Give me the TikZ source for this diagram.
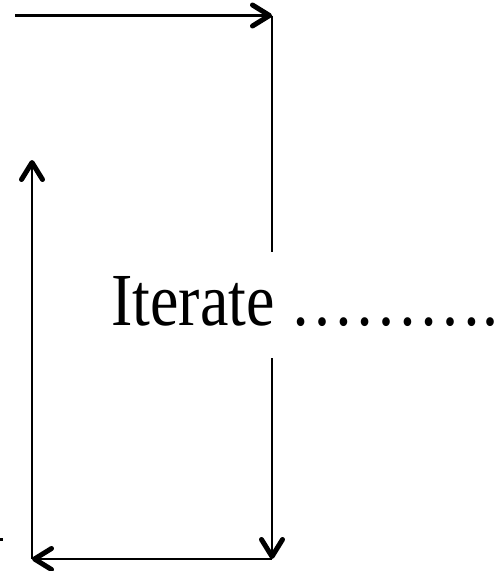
\documentclass[tikz,border=0pt]{standalone}
\usepackage{fontspec}
\setmainfont{Liberation Serif}
\usetikzlibrary{arrows.meta}
\begin{document}
\begin{tikzpicture}[x=1pt,y=-1pt,
  conn/.style={line width=2.2pt,-{Straight Barb[length=17pt,width=21pt,line width=5pt,round]}},
  plain/.style={line width=2.2pt}]
\useasboundingbox (0,0) rectangle (500,571);
\node[anchor=base west,inner sep=0pt] (iter) at (111,325)
  {\scalebox{1}[1.17]{\fontsize{64}{70}\selectfont Iterate ……….}};
\coordinate (start) at (15,15.5);
\coordinate (tr) at (272,15.5);
\coordinate (gapTop) at (272,252);
\coordinate (gapBot) at (272,358);
\coordinate (br) at (272,559);
\coordinate (bl) at (32,559);
\coordinate (lt) at (32,160);
\draw[conn] (start) -- (tr);
\draw[plain] (tr) -- (gapTop);
\draw[conn] (gapBot) -- (br);
\draw[conn] (br) -- (bl);
\draw[conn] (bl) -- (lt);
\fill (0,538) rectangle (2.5,541);
\end{tikzpicture}
\end{document}
